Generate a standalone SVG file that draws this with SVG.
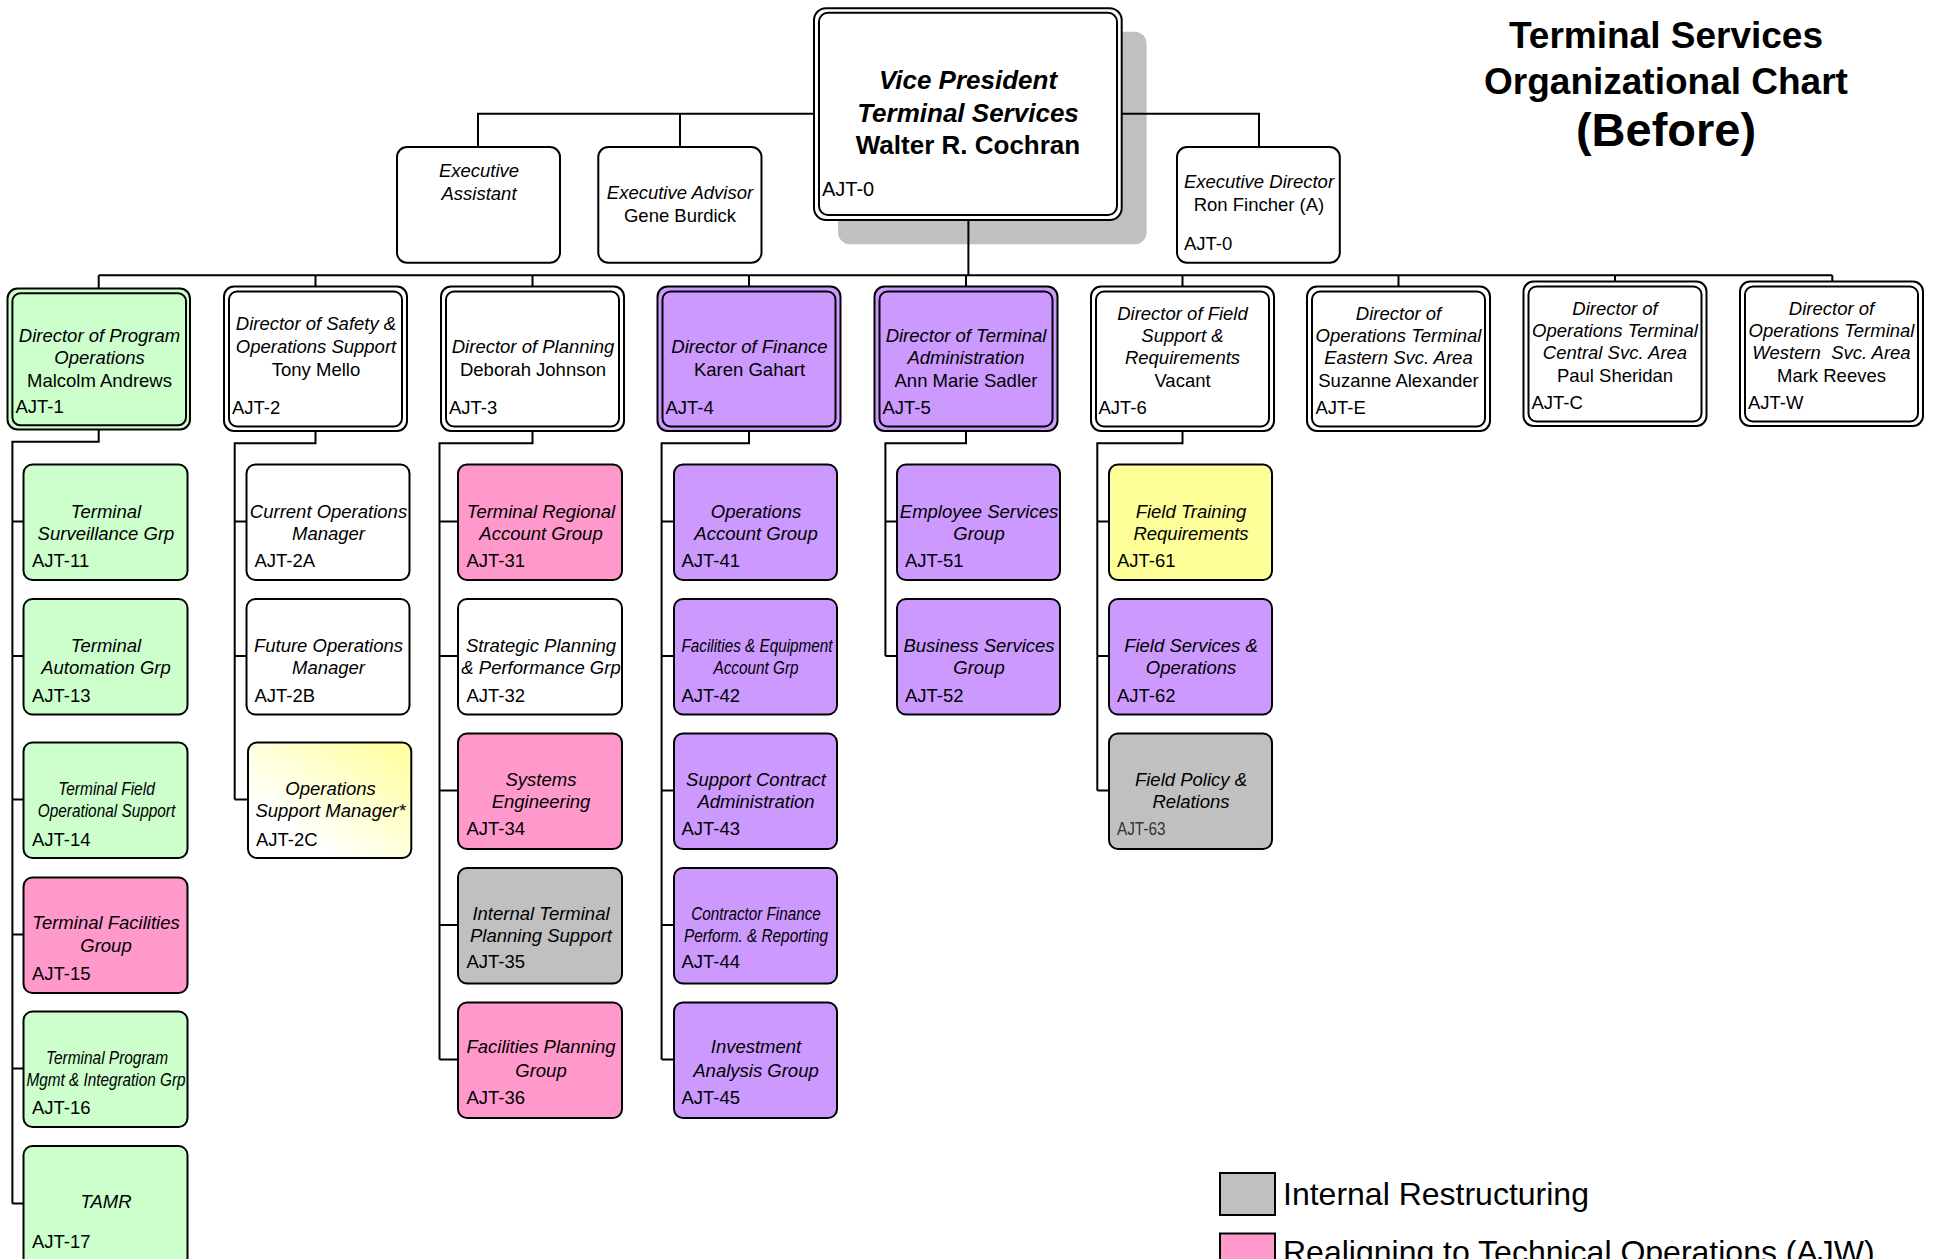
<svg xmlns="http://www.w3.org/2000/svg" width="1933" height="1259" viewBox="0 0 1933 1259">
<defs>
<linearGradient id="yg" x1="1" y1="0" x2="0.25" y2="0.75">
<stop offset="0" stop-color="#ffff99"/>
<stop offset="1" stop-color="#ffffff"/>
</linearGradient>
<style>
.ln{stroke:#000;stroke-width:2;fill:none}
.bx{stroke:#000;stroke-width:2}
.in{stroke:#000;stroke-width:2;fill:none}
.t{font-family:"Liberation Sans",Arial,Helvetica,sans-serif;font-size:18.5px;fill:#000}
.vp{font-size:26px;font-weight:bold}
.i{font-style:italic}
.c{text-anchor:middle}
.w{fill:#ffffff}
.g{fill:#ccffcc}
.p{fill:#cc99ff}
.k{fill:#ff99cc}
.s{fill:#c0c0c0}
.y{fill:#ffff99}
.ttl{font-family:"Liberation Sans",Arial,Helvetica,sans-serif;font-weight:bold;fill:#000;text-anchor:middle}
.lg{font-family:"Liberation Sans",Arial,Helvetica,sans-serif;font-size:32px;fill:#000}
</style>
</defs>
<rect width="1933" height="1259" fill="#ffffff"/>

<g id="title">
<text class="ttl" x="1666" y="48" font-size="37">Terminal Services</text>
<text class="ttl" x="1666" y="94" font-size="37">Organizational Chart</text>
<text class="ttl" x="1666" y="146" font-size="47">(Before)</text>
</g>

<rect id="vp-shadow" x="838" y="31.7" width="308.6" height="212.6" rx="12" fill="#c0c0c0"/>

<g id="connectors">
<path class="ln" d="M478,147 V113.7 H1259 V147 M680,113.7 V147 M968.4,220 V275.3 M98.7,275.3 H1832.3"/>
<path class="ln" d="M98.7,275.3 V288.5 M315.5,275.3 V286.5 M532.5,275.3 V286.5 M749,275.3 V286.5 M966,275.3 V286.5 M1182.5,275.3 V286.5 M1398.5,275.3 V286.5 M1615,275.3 V281.5 M1832.3,275.3 V281.5"/>
<path class="ln" d="M98.7,429.5 V441.7 H12.4 V1203.5 M12.4,521.5 H23.5 M12.4,656 H23.5 M12.4,799.5 H23.5 M12.4,934.5 H23.5 M12.4,1068.5 H23.5 M12.4,1203.5 H23.5"/>
<path class="ln" d="M315.5,431 V443.3 H234.7 V799.5 M234.7,521.5 H246.5 M234.7,656 H246.5 M234.7,799.5 H248"/>
<path class="ln" d="M532.5,431 V443.3 H439.5 V1059.5 M439.5,521.5 H458 M439.5,656 H458 M439.5,790.5 H458 M439.5,925 H458 M439.5,1059.5 H458"/>
<path class="ln" d="M749,431 V443.3 H661.6 V1059.5 M661.6,521.5 H674 M661.6,656 H674 M661.6,790.5 H674 M661.6,925 H674 M661.6,1059.5 H674"/>
<path class="ln" d="M966,431 V443.3 H885.4 V656 M885.4,521.5 H897 M885.4,656 H897"/>
<path class="ln" d="M1182.5,431 V443.3 H1097.3 V790.5 M1097.3,521.5 H1109 M1097.3,656 H1109 M1097.3,790.5 H1109"/>
</g>

<g id="vp">
<rect class="bx w" x="814" y="8.3" width="307.7" height="211.7" rx="12"/>
<rect class="in" x="819" y="12.7" width="298" height="202.3" rx="9"/>
<text class="t c i vp" x="968" y="89">Vice President</text>
<text class="t c i vp" x="968" y="121.5">Terminal Services</text>
<text class="t c vp" x="968" y="153.5">Walter R. Cochran</text>
<text class="t" x="822" y="196" style="font-size:20px">AJT-0</text>
</g>

<g id="exec-assistant">
<rect class="bx w" x="397" y="147" width="163" height="115.7" rx="10"/>
<text class="t c i" x="479" y="176.7">Executive</text>
<text class="t c i" x="479" y="200">Assistant</text>
</g>
<g id="exec-advisor">
<rect class="bx w" x="598.3" y="147" width="163.2" height="115.7" rx="10"/>
<text class="t c i" x="680" y="199.3">Executive Advisor</text>
<text class="t c" x="680" y="221.7">Gene Burdick</text>
</g>
<g id="exec-director">
<rect class="bx w" x="1177" y="147" width="162.8" height="115.7" rx="10"/>
<text class="t c i" x="1259" y="188.3">Executive Director</text>
<text class="t c" x="1259" y="210.7">Ron Fincher (A)</text>
<text class="t" x="1184" y="250">AJT-0</text>
</g>

<g id="ajt-1">
<rect class="bx g" x="7.5" y="288.5" width="182.5" height="141" rx="10"/>
<rect class="in" x="12.4" y="293.3" width="173.6" height="132" rx="8"/>
<text class="t c i" x="99.5" y="341.7">Director of Program</text>
<text class="t c i" x="99.5" y="364.3">Operations</text>
<text class="t c" x="99.5" y="386.7">Malcolm Andrews</text>
<text class="t" x="15.5" y="413.3">AJT-1</text>
</g>
<g id="ajt-2">
<rect class="bx w" x="224" y="286.5" width="183" height="144.5" rx="10"/>
<rect class="in" x="229" y="291.5" width="173" height="135" rx="8"/>
<text class="t c i" x="316" y="330">Director of Safety &amp;</text>
<text class="t c i" x="316" y="353.3">Operations Support</text>
<text class="t c" x="316" y="376">Tony Mello</text>
<text class="t" x="232" y="414.3">AJT-2</text>
</g>
<g id="ajt-3">
<rect class="bx w" x="441" y="286.5" width="183" height="144.5" rx="10"/>
<rect class="in" x="446" y="291.5" width="173" height="135" rx="8"/>
<text class="t c i" x="533" y="353.3">Director of Planning</text>
<text class="t c" x="533" y="376">Deborah Johnson</text>
<text class="t" x="449" y="414.3">AJT-3</text>
</g>
<g id="ajt-4">
<rect class="bx p" x="657.5" y="286.5" width="183" height="144.5" rx="10"/>
<rect class="in" x="662.5" y="291.5" width="173" height="135" rx="8"/>
<text class="t c i" x="749.5" y="353.3">Director of Finance</text>
<text class="t c" x="749.5" y="376">Karen Gahart</text>
<text class="t" x="665.5" y="414.3">AJT-4</text>
</g>
<g id="ajt-5">
<rect class="bx p" x="874.5" y="286.5" width="183" height="144.5" rx="10"/>
<rect class="in" x="879.5" y="291.5" width="173" height="135" rx="8"/>
<text class="t c i" x="966" y="341.7">Director of Terminal</text>
<text class="t c i" x="966" y="364.3">Administration</text>
<text class="t c" x="966" y="386.7">Ann Marie Sadler</text>
<text class="t" x="882.5" y="414.3">AJT-5</text>
</g>
<g id="ajt-6">
<rect class="bx w" x="1091" y="286.5" width="183" height="144.5" rx="10"/>
<rect class="in" x="1096" y="291.5" width="173" height="135" rx="8"/>
<text class="t c i" x="1182.5" y="320">Director of Field</text>
<text class="t c i" x="1182.5" y="341.7">Support &amp;</text>
<text class="t c i" x="1182.5" y="364.3">Requirements</text>
<text class="t c" x="1182.5" y="386.7">Vacant</text>
<text class="t" x="1098.5" y="414.3">AJT-6</text>
</g>
<g id="ajt-e">
<rect class="bx w" x="1307" y="286.5" width="183" height="144.5" rx="10"/>
<rect class="in" x="1312" y="291.5" width="173" height="135" rx="8"/>
<text class="t c i" x="1398.5" y="320">Director of</text>
<text class="t c i" x="1398.5" y="341.7">Operations Terminal</text>
<text class="t c i" x="1398.5" y="364.3">Eastern Svc. Area</text>
<text class="t c" x="1398.5" y="386.7">Suzanne Alexander</text>
<text class="t" x="1315.5" y="414.3">AJT-E</text>
</g>
<g id="ajt-c">
<rect class="bx w" x="1523.5" y="281.5" width="183" height="144.5" rx="10"/>
<rect class="in" x="1528.5" y="286.5" width="173" height="135" rx="8"/>
<text class="t c i" x="1615" y="315">Director of</text>
<text class="t c i" x="1615" y="336.7">Operations Terminal</text>
<text class="t c i" x="1615" y="359.3">Central Svc. Area</text>
<text class="t c" x="1615" y="381.7">Paul Sheridan</text>
<text class="t" x="1531.5" y="409.3">AJT-C</text>
</g>
<g id="ajt-w">
<rect class="bx w" x="1740" y="281.5" width="183" height="144.5" rx="10"/>
<rect class="in" x="1745" y="286.5" width="173" height="135" rx="8"/>
<text class="t c i" x="1831.5" y="315">Director of</text>
<text class="t c i" x="1831.5" y="336.7">Operations Terminal</text>
<text class="t c i" x="1831.5" y="359.3" xml:space="preserve">Western  Svc. Area</text>
<text class="t c" x="1831.5" y="381.7">Mark Reeves</text>
<text class="t" x="1748" y="409.3">AJT-W</text>
</g>

<g id="ajt-11">
<rect class="bx g" x="23.5" y="464.5" width="164" height="115.5" rx="9"/>
<text class="t c i" x="106" y="517.5">Terminal</text>
<text class="t c i" x="106" y="539.5">Surveillance Grp</text>
<text class="t" x="32" y="567">AJT-11</text>
</g>
<g id="ajt-13">
<rect class="bx g" x="23.5" y="599" width="164" height="115.5" rx="9"/>
<text class="t c i" x="106" y="652">Terminal</text>
<text class="t c i" x="106" y="674">Automation Grp</text>
<text class="t" x="32" y="701.5">AJT-13</text>
</g>
<g id="ajt-14">
<rect class="bx g" x="23.5" y="742.5" width="164" height="115.5" rx="9"/>
<text class="t c i" x="106.5" y="795" textLength="96.5" lengthAdjust="spacingAndGlyphs">Terminal Field</text>
<text class="t c i" x="106.5" y="817" textLength="137.5" lengthAdjust="spacingAndGlyphs">Operational Support</text>
<text class="t" x="32" y="845.5">AJT-14</text>
</g>
<g id="ajt-15">
<rect class="bx k" x="23.5" y="877.5" width="164" height="115.5" rx="9"/>
<text class="t c i" x="106" y="929">Terminal Facilities</text>
<text class="t c i" x="106" y="951.5">Group</text>
<text class="t" x="32" y="979.5">AJT-15</text>
</g>
<g id="ajt-16">
<rect class="bx g" x="23.5" y="1011.5" width="164" height="115.5" rx="9"/>
<text class="t c i" x="107" y="1063.5" textLength="122" lengthAdjust="spacingAndGlyphs">Terminal Program</text>
<text class="t c i" x="106" y="1086" textLength="159" lengthAdjust="spacingAndGlyphs">Mgmt &amp; Integration Grp</text>
<text class="t" x="32" y="1114">AJT-16</text>
</g>
<g id="ajt-17">
<rect class="bx g" x="23.5" y="1146" width="164" height="125" rx="9"/>
<text class="t c i" x="106" y="1208.3">TAMR</text>
<text class="t" x="32" y="1248.3">AJT-17</text>
</g>

<g id="ajt-2a">
<rect class="bx w" x="246.5" y="464.5" width="163" height="115.5" rx="9"/>
<text class="t c i" x="328.5" y="517.5">Current Operations</text>
<text class="t c i" x="328.5" y="539.5">Manager</text>
<text class="t" x="254.5" y="567">AJT-2A</text>
</g>
<g id="ajt-2b">
<rect class="bx w" x="246.5" y="599" width="163" height="115.5" rx="9"/>
<text class="t c i" x="328.5" y="652">Future Operations</text>
<text class="t c i" x="328.5" y="674">Manager</text>
<text class="t" x="254.5" y="701.5">AJT-2B</text>
</g>
<g id="ajt-2c">
<rect class="bx" fill="url(#yg)" x="248" y="742.5" width="163.3" height="115.5" rx="9"/>
<text class="t c i" x="330.5" y="795">Operations</text>
<text class="t c i" x="330.5" y="817">Support Manager*</text>
<text class="t" x="256" y="845.5">AJT-2C</text>
</g>

<g id="ajt-31">
<rect class="bx k" x="458" y="464.5" width="164" height="115.5" rx="9"/>
<text class="t c i" x="541" y="517.5">Terminal Regional</text>
<text class="t c i" x="541" y="539.5">Account Group</text>
<text class="t" x="466.5" y="567">AJT-31</text>
</g>
<g id="ajt-32">
<rect class="bx w" x="458" y="599" width="164" height="115.5" rx="9"/>
<text class="t c i" x="541" y="652">Strategic Planning</text>
<text class="t c i" x="541" y="674">&amp; Performance Grp</text>
<text class="t" x="466.5" y="701.5">AJT-32</text>
</g>
<g id="ajt-34">
<rect class="bx k" x="458" y="733.5" width="164" height="115.5" rx="9"/>
<text class="t c i" x="541" y="786">Systems</text>
<text class="t c i" x="541" y="808.3">Engineering</text>
<text class="t" x="466.5" y="835">AJT-34</text>
</g>
<g id="ajt-35">
<rect class="bx s" x="458" y="868" width="164" height="115.5" rx="9"/>
<text class="t c i" x="541" y="920">Internal Terminal</text>
<text class="t c i" x="541" y="941.7">Planning Support</text>
<text class="t" x="466.5" y="968.3">AJT-35</text>
</g>
<g id="ajt-36">
<rect class="bx k" x="458" y="1002.5" width="164" height="115.5" rx="9"/>
<text class="t c i" x="541" y="1053.3">Facilities Planning</text>
<text class="t c i" x="541" y="1076.7">Group</text>
<text class="t" x="466.5" y="1104.3">AJT-36</text>
</g>

<g id="ajt-41">
<rect class="bx p" x="674" y="464.5" width="163" height="115.5" rx="9"/>
<text class="t c i" x="756" y="517.5">Operations</text>
<text class="t c i" x="756" y="539.5">Account Group</text>
<text class="t" x="681.5" y="567">AJT-41</text>
</g>
<g id="ajt-42">
<rect class="bx p" x="674" y="599" width="163" height="115.5" rx="9"/>
<text class="t c i" x="757" y="652" textLength="151" lengthAdjust="spacingAndGlyphs">Facilities &amp; Equipment</text>
<text class="t c i" x="756" y="674" textLength="85" lengthAdjust="spacingAndGlyphs">Account Grp</text>
<text class="t" x="681.5" y="701.5">AJT-42</text>
</g>
<g id="ajt-43">
<rect class="bx p" x="674" y="733.5" width="163" height="115.5" rx="9"/>
<text class="t c i" x="756" y="786">Support Contract</text>
<text class="t c i" x="756" y="808.3">Administration</text>
<text class="t" x="681.5" y="835">AJT-43</text>
</g>
<g id="ajt-44">
<rect class="bx p" x="674" y="868" width="163" height="115.5" rx="9"/>
<text class="t c i" x="756" y="920" textLength="129.5" lengthAdjust="spacingAndGlyphs">Contractor Finance</text>
<text class="t c i" x="756" y="941.7" textLength="144" lengthAdjust="spacingAndGlyphs">Perform. &amp; Reporting</text>
<text class="t" x="681.5" y="968.3">AJT-44</text>
</g>
<g id="ajt-45">
<rect class="bx p" x="674" y="1002.5" width="163" height="115.5" rx="9"/>
<text class="t c i" x="756" y="1053.3">Investment</text>
<text class="t c i" x="756" y="1076.7">Analysis Group</text>
<text class="t" x="681.5" y="1104.3">AJT-45</text>
</g>

<g id="ajt-51">
<rect class="bx p" x="897" y="464.5" width="163" height="115.5" rx="9"/>
<text class="t c i" x="979" y="517.5">Employee Services</text>
<text class="t c i" x="979" y="539.5">Group</text>
<text class="t" x="905" y="567">AJT-51</text>
</g>
<g id="ajt-52">
<rect class="bx p" x="897" y="599" width="163" height="115.5" rx="9"/>
<text class="t c i" x="979" y="652">Business Services</text>
<text class="t c i" x="979" y="674">Group</text>
<text class="t" x="905" y="701.5">AJT-52</text>
</g>

<g id="ajt-61">
<rect class="bx y" x="1109" y="464.5" width="163" height="115.5" rx="9"/>
<text class="t c i" x="1191" y="517.5">Field Training</text>
<text class="t c i" x="1191" y="539.5">Requirements</text>
<text class="t" x="1117" y="567">AJT-61</text>
</g>
<g id="ajt-62">
<rect class="bx p" x="1109" y="599" width="163" height="115.5" rx="9"/>
<text class="t c i" x="1191" y="652">Field Services &amp;</text>
<text class="t c i" x="1191" y="674">Operations</text>
<text class="t" x="1117" y="701.5">AJT-62</text>
</g>
<g id="ajt-63">
<rect class="bx s" x="1109" y="733.5" width="163" height="115.5" rx="9"/>
<text class="t c i" x="1191" y="786">Field Policy &amp;</text>
<text class="t c i" x="1191" y="808.3">Relations</text>
<text class="t" x="1117" y="835" style="fill:#333333" textLength="48.5" lengthAdjust="spacingAndGlyphs">AJT-63</text>
</g>

<g id="legend">
<rect class="bx s" x="1220" y="1173" width="55" height="42"/>
<text class="lg" x="1283" y="1205">Internal Restructuring</text>
<rect class="bx k" x="1220" y="1233.5" width="55" height="40"/>
<text class="lg" x="1283" y="1263">Realigning to Technical Operations (AJW)</text>
</g>
</svg>
